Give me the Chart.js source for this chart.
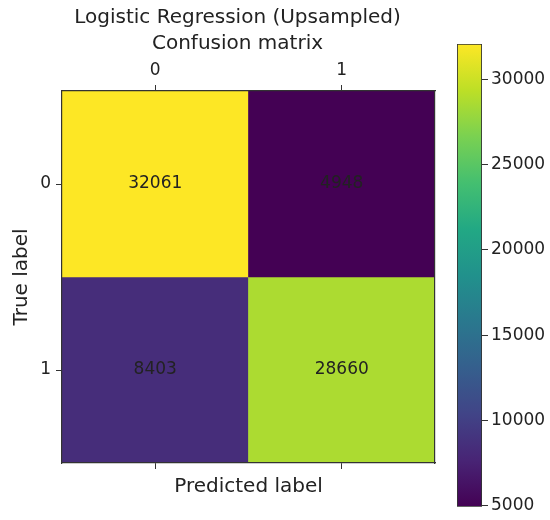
<!DOCTYPE html>
<html>
<head>
<meta charset="utf-8">
<script src="https://cdn.jsdelivr.net/npm/chart.js@4"></script>
<style>
  html, body { margin: 0; padding: 0; background: #fff; }
  #wrap { position: relative; width: 550px; height: 520px; }
  #matrix { position: absolute; left: 0; top: 0; }
  #cbar { position: absolute; left: 440px; top: 0; }
</style>
</head>
<body>
<div id="wrap">
  <canvas id="matrix" width="475" height="520"></canvas>
  <canvas id="cbar" width="110" height="520"></canvas>
</div>
<script>
// Class labels and confusion counts (rows = true label, cols = predicted label)
const predictedLabels = ['0', '1'];
const trueLabels = ['0', '1'];
const row0 = [32061, 4948];
const row1 = [8403, 28660];
const matrixRows = [row0, row1];
const colorbarTicks = [5000, 10000, 15000, 20000, 25000, 30000];

const FONT = "'DejaVu Sans', sans-serif";
const INK = '#222222';
const SPINE = '#333333';

// viridis colormap, sampled every 0.1
const VIRIDIS = ['#440154', '#482475', '#414487', '#355f8d', '#2a788e',
                 '#21918c', '#22a884', '#44bf70', '#7ad151', '#bddf26', '#fde725'];
function hexToRgb(h) {
  return [parseInt(h.slice(1, 3), 16), parseInt(h.slice(3, 5), 16), parseInt(h.slice(5, 7), 16)];
}
function viridis(t) {
  t = Math.max(0, Math.min(1, t));
  const pos = t * (VIRIDIS.length - 1);
  const i = Math.min(Math.floor(pos), VIRIDIS.length - 2);
  const f = pos - i;
  const a = hexToRgb(VIRIDIS[i]), b = hexToRgb(VIRIDIS[i + 1]);
  const c = a.map((v, k) => Math.round(v + (b[k] - v) * f));
  return `rgb(${c[0]},${c[1]},${c[2]})`;
}

const allValues = matrixRows.flat();
const vmin = Math.min(...allValues);
const vmax = Math.max(...allValues);

// one floating-bar dataset per true-label row; each bar spans one cell
const datasets = matrixRows.map((row, r) => ({
  data: row.map(() => [r - 0.5, r + 0.5]),
  backgroundColor: row.map(v => viridis((v - vmin) / (vmax - vmin))),
  borderWidth: 0,
  grouped: false,
  barPercentage: 1,
  categoryPercentage: 1,
  counts: row
}));

const cellText = {
  id: 'cellText',
  afterDatasetsDraw(chart) {
    const ctx = chart.ctx;
    ctx.save();
    ctx.font = `17px ${FONT}`;
    ctx.fillStyle = INK;
    ctx.textAlign = 'center';
    ctx.textBaseline = 'middle';
    chart.data.datasets.forEach((ds, i) => {
      chart.getDatasetMeta(i).data.forEach((bar, j) => {
        const p = bar.getCenterPoint();
        ctx.fillText(String(ds.counts[j]), p.x, p.y);
      });
    });
    ctx.restore();
  }
};

const tickGrid = {
  drawOnChartArea: false,
  drawTicks: true,
  tickLength: 6,
  tickColor: SPINE,
  offset: false
};
// spines are drawn above the cells
const spine = { display: true, color: SPINE, width: 1.2, z: 1 };

new Chart(document.getElementById('matrix'), {
  type: 'bar',
  data: { labels: predictedLabels, datasets },
  options: {
    responsive: false,
    animation: false,
    layout: { padding: 0 },
    plugins: {
      legend: { display: false },
      tooltip: { enabled: false },
      title: {
        display: true,
        text: ['Logistic Regression (Upsampled)', 'Confusion matrix'],
        color: INK,
        font: { family: FONT, size: 20, weight: 'normal', lineHeight: '26px' },
        padding: { top: 5, bottom: 4 }
      }
    },
    scales: {
      x: {
        type: 'category',
        position: 'top',
        grid: tickGrid,
        border: spine,
        ticks: { color: INK, font: { family: FONT, size: 17 }, padding: 4, maxRotation: 0 },
        afterFit: s => { s.height = 30; }
      },
      x2: {
        type: 'category',
        position: 'bottom',
        grid: tickGrid,
        border: spine,
        ticks: { display: false },
        title: {
          display: true,
          text: 'Predicted label',
          color: INK,
          font: { family: FONT, size: 20, lineHeight: '24px' },
          padding: { top: 0, bottom: 21 }
        },
        afterFit: s => { s.height = 57; }
      },
      y: {
        type: 'linear',
        position: 'left',
        reverse: true,
        min: -0.5,
        max: 1.5,
        grid: tickGrid,
        border: spine,
        afterBuildTicks: s => { s.ticks = trueLabels.map((_, i) => ({ value: i })); },
        ticks: {
          color: INK,
          font: { family: FONT, size: 17 },
          padding: 5,
          callback: v => trueLabels[v]
        },
        title: {
          display: true,
          text: 'True label',
          color: INK,
          font: { family: FONT, size: 20, lineHeight: '24px' },
          padding: { top: 10, bottom: 0 }
        },
        afterFit: s => { s.width = 62; }
      },
      yR: {
        type: 'linear',
        position: 'right',
        min: 0,
        max: 1,
        grid: { drawOnChartArea: false, drawTicks: false },
        border: spine,
        ticks: { display: false },
        afterFit: s => { s.width = 40; }
      }
    }
  },
  plugins: [cellText]
});

// colorbar: a single floating bar spanning the data range, filled with the colormap
new Chart(document.getElementById('cbar'), {
  type: 'bar',
  data: {
    labels: [''],
    datasets: [{
      data: [[vmin, vmax]],
      barPercentage: 1,
      categoryPercentage: 1,
      borderWidth: 1.2,
      borderColor: SPINE,
      borderSkipped: false,
      backgroundColor: (c) => {
        const chart = c.chart;
        if (!chart.chartArea) return VIRIDIS[0];
        const ys = chart.scales.y;
        const g = chart.ctx.createLinearGradient(0, ys.getPixelForValue(vmin), 0, ys.getPixelForValue(vmax));
        VIRIDIS.forEach((col, i) => g.addColorStop(i / (VIRIDIS.length - 1), col));
        return g;
      }
    }]
  },
  options: {
    responsive: false,
    animation: false,
    layout: { padding: { left: 17, top: 44, bottom: 12, right: 0 } },
    plugins: { legend: { display: false }, tooltip: { enabled: false } },
    scales: {
      x: { display: false },
      y: {
        position: 'right',
        min: vmin,
        max: vmax,
        grid: { drawOnChartArea: false, drawTicks: true, tickLength: 6, tickColor: SPINE },
        border: { display: false },
        afterBuildTicks: s => { s.ticks = colorbarTicks.map(v => ({ value: v })); },
        ticks: {
          color: INK,
          font: { family: FONT, size: 17 },
          padding: 3,
          callback: v => String(v)
        },
        afterFit: s => { s.width = 68; }
      }
    }
  }
});
</script>
</body>
</html>
